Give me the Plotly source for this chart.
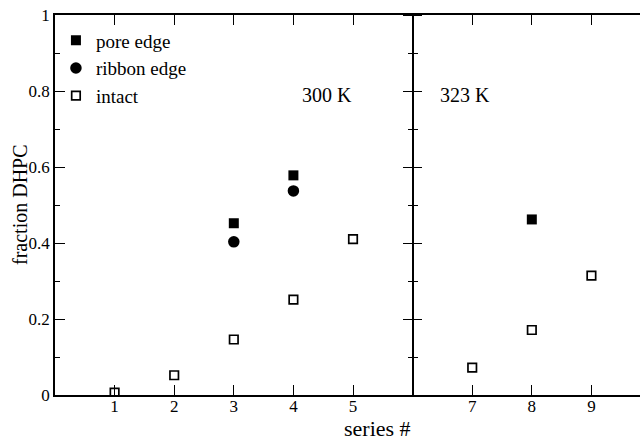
import plotly.graph_objects as go

# ---- data ----
intact_x = [1, 2, 3, 4, 5, 7, 8, 9]
intact_y = [0.006, 0.052, 0.146, 0.251, 0.410, 0.072, 0.171, 0.314]
pore_x = [3, 4, 8]
pore_y = [0.452, 0.578, 0.462]
ribbon_x = [3, 4]
ribbon_y = [0.403, 0.537]
x_tickvals = [1, 2, 3, 4, 5, 7, 8, 9]
x_ticktext = ["1", "2", "3", "4", "5", "7", "8", "9"]
y_tickvals = [0, 0.2, 0.4, 0.6, 0.8, 1]
y_ticktext = ["0", "0.2", "0.4", "0.6", "0.8", "1"]
divider_x = 6
temp_labels = ["300 K", "323 K"]

XMAX = 9.815
FONT = "Liberation Serif, Times New Roman, serif"

fig = go.Figure()
fig.add_trace(go.Scatter(x=pore_x, y=pore_y, mode="markers", name="pore edge",
                         legendgroup="a",
                         marker=dict(symbol="square", size=10, color="black")))
fig.add_trace(go.Scatter(x=ribbon_x, y=ribbon_y, mode="markers", name="ribbon edge",
                         legendgroup="b",
                         marker=dict(symbol="circle", size=11.5, color="black")))
fig.add_trace(go.Scatter(x=intact_x, y=intact_y, mode="markers", name="intact",
                         legendgroup="c",
                         marker=dict(symbol="square-open", size=8.5, color="black",
                                     line=dict(width=1.7, color="black"))))
fig.add_trace(go.Scatter(x=[divider_x], y=[0], yaxis="y2", mode="markers",
                         marker=dict(opacity=0), showlegend=False, hoverinfo="skip"))
fig.add_trace(go.Scatter(x=[divider_x], y=[0], yaxis="y3", mode="markers",
                         marker=dict(opacity=0), showlegend=False, hoverinfo="skip"))

div_pos = divider_x / XMAX

common_y = dict(range=[0, 1], showgrid=False, zeroline=False, showline=True,
                linecolor="black", linewidth=1.5, tickcolor="black", tickwidth=1,
                automargin=False, tickvals=y_tickvals)

fig.update_layout(
    width=640, height=439,
    margin=dict(l=55, r=0, t=15, b=44, autoexpand=False),
    paper_bgcolor="white", plot_bgcolor="white",
    font=dict(family=FONT, color="black", size=18),
    xaxis=dict(range=[0, XMAX], tickvals=x_tickvals, ticktext=x_ticktext,
               ticks="inside", ticklen=10, tickwidth=1, tickcolor="black",
               showline=True, linewidth=1.5, linecolor="black", mirror="ticks",
               showgrid=False, zeroline=False, automargin=False,
               ticklabelstandoff=-5,
               tickfont=dict(size=17, family=FONT, color="black")),
    yaxis=dict(**common_y, ticks="inside", ticklen=10,
               ticktext=y_ticktext,
               minor=dict(ticks="inside", ticklen=5, dtick=0.1, tickcolor="black", showgrid=False),
               tickfont=dict(size=17, family=FONT, color="black")),
    yaxis2=dict(**common_y, overlaying="y", anchor="free", position=div_pos, side="left",
                ticks="outside", ticklen=9,
                minor=dict(ticks="outside", ticklen=4, dtick=0.1, tickcolor="black", showgrid=False),
                showticklabels=False),
    yaxis3=dict(**common_y, overlaying="y", anchor="free", position=div_pos, side="right",
                ticks="outside", ticklen=9,
                minor=dict(ticks="outside", ticklen=5, dtick=0.1, tickcolor="black", showgrid=False),
                showticklabels=False),
    legend=dict(x=0.0016, y=0.983, xanchor="left", yanchor="top",
                font=dict(size=19, family=FONT, color="black"), bgcolor="rgba(0,0,0,0)",
                tracegroupgap=0, itemsizing="trace"),
    showlegend=True,
)

fig.add_annotation(x=4.56, y=0.79, text=temp_labels[0], showarrow=False,
                   font=dict(size=20, family=FONT), xref="x", yref="y")
fig.add_annotation(x=6.88, y=0.79, text=temp_labels[1], showarrow=False,
                   font=dict(size=20, family=FONT), xref="x", yref="y")
# axis titles (positions in paper fractions)
fig.add_annotation(x=(377 - 55) / 585, y=-(428 - 395) / 380, text="series #", showarrow=False,
                   font=dict(size=22, family=FONT), xref="paper", yref="paper",
                   xanchor="center", yanchor="middle")
fig.add_annotation(x=-(55 - 20) / 585, y=0.5, text="fraction DHPC", showarrow=False, textangle=-90,
                   font=dict(size=20, family=FONT), xref="paper", yref="paper",
                   xanchor="center", yanchor="middle")

fig.write_html("out.html", config={"displayModeBar": False},
               post_script="document.body.style.margin='0';document.body.style.overflow='hidden';")
